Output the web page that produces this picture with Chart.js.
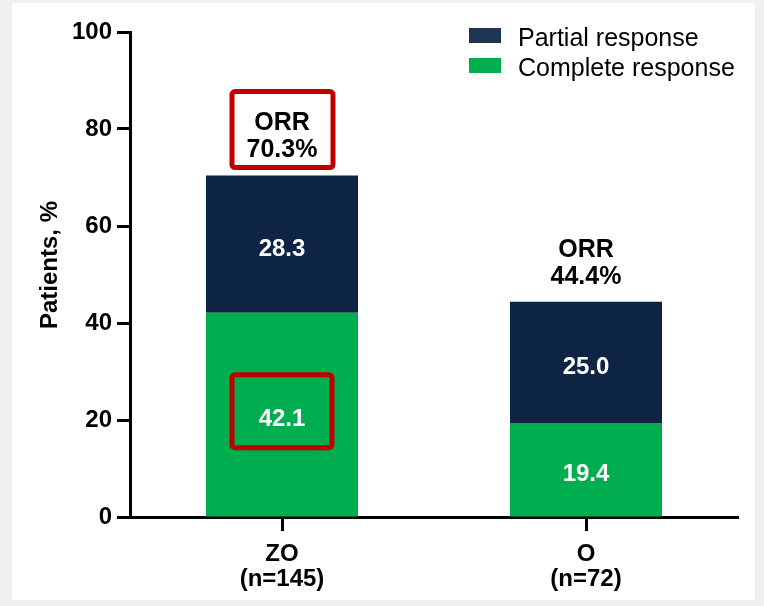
<!DOCTYPE html>
<html>
<head>
<meta charset="utf-8">
<script src="https://cdn.jsdelivr.net/npm/chart.js@4.4.1/dist/chart.umd.min.js"></script>
<style>
  html, body { margin: 0; padding: 0; background: #f0f0f0; }
  #wrap { position: relative; width: 764px; height: 606px; overflow: hidden; }
  #panel { position: absolute; left: 12px; top: 3px; width: 743px; height: 597px; background: #ffffff; }
  #c { position: absolute; left: 0; top: 0; }
</style>
</head>
<body>
<div id="wrap">
  <div id="panel"></div>
  <canvas id="c" width="764" height="606"></canvas>
</div>
<script>
// ---- data ----
const categories = [['ZO', '(n=145)'], ['O', '(n=72)']];
const completeResponse = [42.1, 19.4];
const partialResponse = [28.3, 25.0];
const orrValues = ['70.3%', '44.4%'];
const yTicks = [0, 20, 40, 60, 80, 100];
const seriesNames = ['Complete response', 'Partial response'];
const yTitle = 'Patients, %';

const NAVY = '#0e2444';
const NAVY_LEGEND = '#1f3352';
const GREEN = '#00ae4f';
const RED = '#c00000';
const FONT = "'Liberation Sans', Arial, Helvetica, sans-serif";

const overlayPlugin = {
  id: 'overlay',
  afterDatasetsDraw(chart) {
    const ctx = chart.ctx;
    ctx.save();
    // value labels inside bars
    chart.data.datasets.forEach((ds, di) => {
      const meta = chart.getDatasetMeta(di);
      meta.data.forEach((bar, i) => {
        const mid = (bar.y + bar.base) / 2;
        ctx.fillStyle = '#ffffff';
        ctx.font = 'bold 24px ' + FONT;
        ctx.textAlign = 'center';
        ctx.textBaseline = 'middle';
        ctx.fillText(ds.data[i].toFixed(1), bar.x, mid + 5);
      });
    });
    // ORR labels above stacks
    const topMeta = chart.getDatasetMeta(1);
    topMeta.data.forEach((bar, i) => {
      ctx.fillStyle = '#000000';
      ctx.font = 'bold 25px ' + FONT;
      ctx.textAlign = 'center';
      ctx.textBaseline = 'middle';
      ctx.fillText('ORR', bar.x, bar.y - 52);
      ctx.fillText(orrValues[i], bar.x, bar.y - 25);
    });
    // highlight boxes (ZO group)
    ctx.strokeStyle = RED;
    ctx.lineWidth = 5;
    const zoTop = topMeta.data[0];
    roundRect(ctx, zoTop.x - 50, zoTop.y - 84, 101, 76, 3);
    const zoCR = chart.getDatasetMeta(0).data[0];
    const crMid = (zoCR.y + zoCR.base) / 2;
    roundRect(ctx, zoCR.x - 50, crMid - 40, 100, 73, 3);
    // legend
    const legendItems = [
      { label: seriesNames[1], color: NAVY_LEGEND },
      { label: seriesNames[0], color: chart.data.datasets[0].backgroundColor }
    ];
    legendItems.forEach((it, k) => {
      const y = 28 + k * 30;
      ctx.fillStyle = it.color;
      ctx.fillRect(469, y, 32, 15);
      ctx.fillStyle = '#000000';
      ctx.font = '25px ' + FONT;
      ctx.textAlign = 'left';
      ctx.textBaseline = 'middle';
      ctx.fillText(it.label, 518, y + 11);
    });
    // y title
    ctx.save();
    ctx.translate(50, 265);
    ctx.rotate(-Math.PI / 2);
    ctx.fillStyle = '#000000';
    ctx.font = 'bold 24px ' + FONT;
    ctx.textAlign = 'center';
    ctx.textBaseline = 'middle';
    ctx.fillText(yTitle, 0, 0);
    ctx.restore();
    ctx.restore();
  }
};

function roundRect(ctx, x, y, w, h, r) {
  ctx.beginPath();
  ctx.moveTo(x + r, y);
  ctx.lineTo(x + w - r, y);
  ctx.arcTo(x + w, y, x + w, y + r, r);
  ctx.lineTo(x + w, y + h - r);
  ctx.arcTo(x + w, y + h, x + w - r, y + h, r);
  ctx.lineTo(x + r, y + h);
  ctx.arcTo(x, y + h, x, y + h - r, r);
  ctx.lineTo(x, y + r);
  ctx.arcTo(x, y, x + r, y, r);
  ctx.closePath();
  ctx.stroke();
}

new Chart(document.getElementById('c'), {
  type: 'bar',
  data: {
    labels: categories,
    datasets: [
      { label: seriesNames[0], data: completeResponse, backgroundColor: GREEN, stack: 's' },
      { label: seriesNames[1], data: partialResponse, backgroundColor: NAVY, stack: 's' }
    ]
  },
  options: {
    responsive: false,
    animation: false,
    devicePixelRatio: 1,
    layout: { padding: { left: 0, right: 26, top: 32, bottom: 0 } },
    plugins: { legend: { display: false }, tooltip: { enabled: false } },
    datasets: { bar: { categoryPercentage: 1.0, barPercentage: 0.5 } },
    scales: {
      x: {
        stacked: true,
        grid: { display: true, drawOnChartArea: false, offset: false, tickLength: 14, tickWidth: 3, tickColor: '#000' },
        border: { display: true, color: '#000', width: 3 },
        ticks: { color: '#000', font: { family: FONT, size: 24, weight: 'bold', lineHeight: 1.05 }, padding: 11, maxRotation: 0 },
        afterFit(scale) { scale.height = 89; }
      },
      y: {
        stacked: true,
        min: 0, max: 100,
        afterBuildTicks(scale) { scale.ticks = yTicks.map(v => ({ value: v })); },
        grid: { display: true, drawOnChartArea: false, tickLength: 13, tickWidth: 3, tickColor: '#000' },
        border: { display: true, color: '#000', width: 3 },
        ticks: { color: '#000', font: { family: FONT, size: 24, weight: 'bold' }, padding: 5 },
        afterFit(scale) { scale.width = 130; }
      }
    }
  },
  plugins: [overlayPlugin]
});
</script>
</body>
</html>
